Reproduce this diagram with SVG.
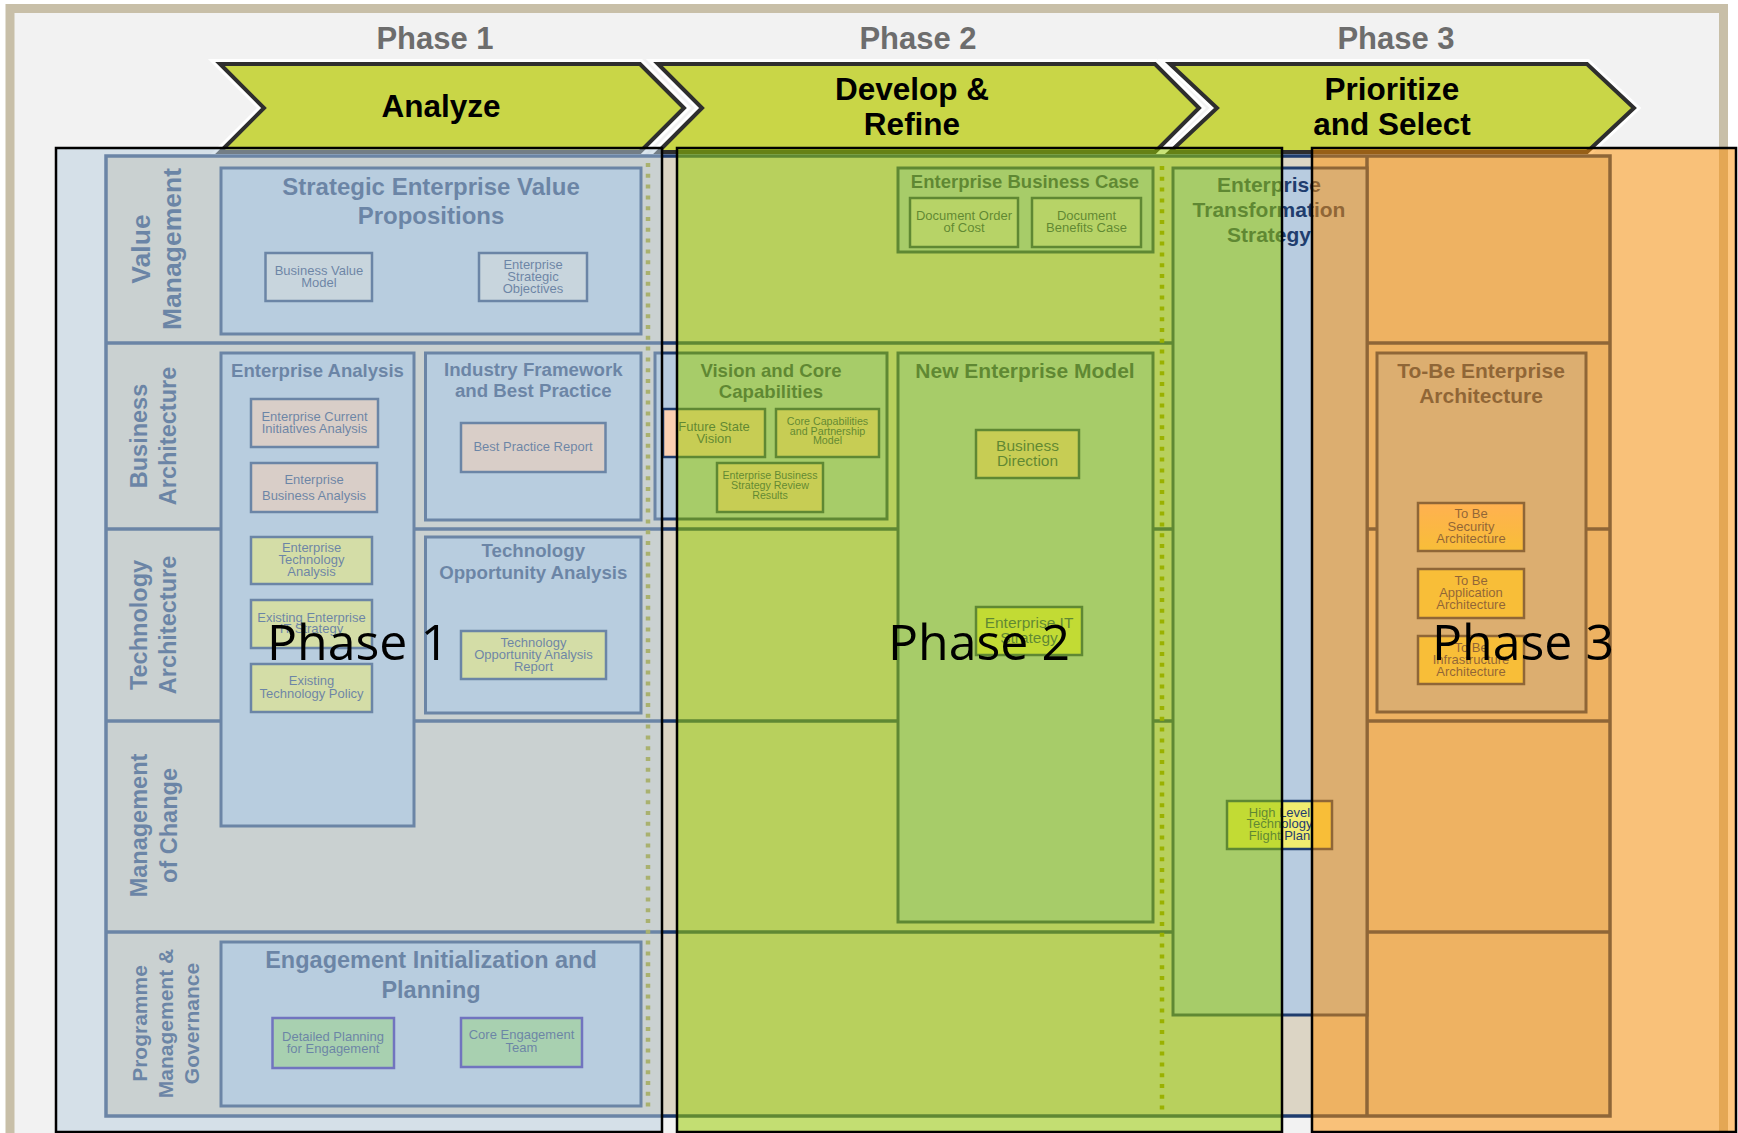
<svg xmlns="http://www.w3.org/2000/svg" width="1738" height="1133" viewBox="0 0 1738 1133">
  <style>
    .sans { font-family: "Liberation Sans", Arial, sans-serif; }
    .hdr { font-family: "Liberation Sans", Arial, sans-serif; font-weight: bold; font-size: 31px; fill: #6d6d6d; text-anchor: middle; }
    .halo { fill: none; stroke: #ffffff; stroke-width: 10; stroke-linejoin: miter; }
    .chev { fill: #c9d647; stroke: #2e2e2e; stroke-width: 4; stroke-linejoin: miter; }
    .chevtxt { font-family: "Liberation Sans", Arial, sans-serif; font-weight: bold; font-size: 31.5px; fill: #000000; text-anchor: middle; }
    .rows { fill: #dcd5c5; stroke: #1f3d6e; stroke-width: 3.5; }
    .rowline { fill: none; stroke: #1f3d6e; stroke-width: 3.5; }
    .lane { font-family: "Liberation Sans", Arial, sans-serif; font-weight: bold; fill: #1f3d6e; text-anchor: middle; }
    .box { fill: #b8cce0; stroke: #1f3d6e; stroke-width: 3; }
    .ttl { font-family: "Liberation Sans", Arial, sans-serif; font-weight: bold; fill: #1f3d6e; text-anchor: middle; }
    .item { stroke: #1f3d6e; stroke-width: 2.5; }
    .peach { fill: #fbcfb2; }
    .yellow { fill: #f0ec70; }
    .grey { fill: #d9dcdc; }
    .mint { fill: #98d282; stroke: #2a1aa0; }
    .grad { fill: url(#peachToYellow); }
    .sm { font-family: "Liberation Sans", Arial, sans-serif; font-size: 13px; fill: #1f3d6e; text-anchor: middle; }
    .dots { fill: none; stroke: #9b9400; stroke-width: 4.5; stroke-dasharray: 4 6.8; }
    .phase { stroke: #000000; stroke-width: 2.5; }
    .phasetxt { font-family: "Open Sans", "Noto Sans", sans-serif; font-size: 50px; fill: #000000; text-anchor: middle; }
  </style>
  <defs>
    <linearGradient id="peachToYellow" x1="0" y1="0" x2="0" y2="1">
      <stop offset="0" stop-color="#ffd2a2"/>
      <stop offset="1" stop-color="#f0ec70"/>
    </linearGradient>
  </defs>

  <!-- page and frame -->
  <rect x="0" y="0" width="1738" height="1133" fill="#ffffff"/>
  <rect x="10" y="8.5" width="1713.5" height="1140" fill="#f2f2f2" stroke="#c8bfa8" stroke-width="9"/>

  <!-- phase headings -->
  <g id="headings">
    <text class="hdr" x="435" y="49">Phase 1</text>
    <text class="hdr" x="918" y="49">Phase 2</text>
    <text class="hdr" x="1396" y="49">Phase 3</text>
  </g>

  <!-- chevron banner -->
  <g id="chevron-analyze">
    <polygon class="halo" points="220,64 640,64 684,108 640,152 220,152 264,108"/>
    <polygon class="chev" points="220,64 640,64 684,108 640,152 220,152 264,108"/>
    <text class="chevtxt" x="441" y="117">Analyze</text>
  </g>
  <g id="chevron-develop">
    <polygon class="halo" points="658,64 1155,64 1199,108 1155,152 658,152 702,108"/>
    <polygon class="chev" points="658,64 1155,64 1199,108 1155,152 658,152 702,108"/>
    <text class="chevtxt" x="912"><tspan x="912" y="100">Develop &amp;</tspan><tspan x="912" y="135">Refine</tspan></text>
  </g>
  <g id="chevron-prioritize">
    <polygon class="halo" points="1170,64 1587,64 1634,108 1587,152 1170,152 1217,108"/>
    <polygon class="chev" points="1170,64 1587,64 1634,108 1587,152 1170,152 1217,108"/>
    <text class="chevtxt"><tspan x="1392" y="100">Prioritize</tspan><tspan x="1392" y="135">and Select</tspan></text>
  </g>

  <!-- swimlane grid -->
  <g id="lanes">
    <rect class="rows" x="106" y="156" width="1504" height="960"/>
    <path class="rowline" d="M106 343H1610M106 529H1610M106 721H1610M106 932H1610M1367 156V1116"/>
    <text class="lane" transform="rotate(-90)" style="font-size:26.5px"><tspan x="-249" y="149.5">Value</tspan><tspan x="-249" y="181">Management</tspan></text>
    <text class="lane" transform="rotate(-90)" style="font-size:23.5px"><tspan x="-436" y="147">Business</tspan><tspan x="-436" y="175.7">Architecture</tspan></text>
    <text class="lane" transform="rotate(-90)" style="font-size:23.5px"><tspan x="-625" y="147">Technology</tspan><tspan x="-625" y="175.7">Architecture</tspan></text>
    <text class="lane" transform="rotate(-90)" style="font-size:23.5px"><tspan x="-825.5" y="147">Management</tspan><tspan x="-825.5" y="176.5">of Change</tspan></text>
    <text class="lane" transform="rotate(-90)" style="font-size:21px"><tspan x="-1023.5" y="147">Programme</tspan><tspan x="-1023.5" y="173">Management &amp;</tspan><tspan x="-1023.5" y="199">Governance</tspan></text>
  </g>

  <!-- stage separators -->
  <g id="separators">
    <line class="dots" x1="648" y1="163" x2="648" y2="1113"/>
    <line class="dots" x1="1162" y1="166" x2="1162" y2="1113"/>
  </g>

  <!-- Value Management -->
  <g id="strategic-value-propositions">
    <rect class="box" x="221" y="168" width="420" height="166"/>
    <text class="ttl" style="font-size:24px"><tspan x="431" y="195">Strategic Enterprise Value</tspan><tspan x="431" y="224">Propositions</tspan></text>
  </g>
  <g id="business-value-model">
    <rect class="item grey" x="265.5" y="253" width="106.5" height="48"/>
    <text class="sm"><tspan x="319" y="275">Business Value</tspan><tspan x="319" y="287">Model</tspan></text>
  </g>
  <g id="strategic-objectives">
    <rect class="item grey" x="479" y="253" width="108" height="48"/>
    <text class="sm"><tspan x="533" y="269">Enterprise</tspan><tspan x="533" y="281">Strategic</tspan><tspan x="533" y="293">Objectives</tspan></text>
  </g>
  <g id="business-case">
    <rect class="box" x="898" y="168" width="255" height="84"/>
    <text class="ttl" x="1025" y="188" style="font-size:18.5px">Enterprise Business Case</text>
  </g>
  <g id="order-of-cost">
    <rect class="item grey" x="910" y="198" width="108" height="49"/>
    <text class="sm"><tspan x="964" y="220">Document Order</tspan><tspan x="964" y="232">of Cost</tspan></text>
  </g>
  <g id="benefits-case">
    <rect class="item grey" x="1032" y="198" width="109" height="49"/>
    <text class="sm"><tspan x="1086.5" y="220">Document</tspan><tspan x="1086.5" y="232">Benefits Case</tspan></text>
  </g>

  <!-- Enterprise Analysis column -->
  <g id="enterprise-analysis">
    <rect class="box" x="221" y="353" width="193" height="473"/>
    <text class="ttl" x="317.5" y="377" style="font-size:18.6px">Enterprise Analysis</text>
  </g>
  <g id="current-initiatives">
    <rect class="item peach" x="251" y="399" width="127" height="48"/>
    <text class="sm"><tspan x="314.5" y="421">Enterprise Current</tspan><tspan x="314.5" y="433">Initiatives Analysis</tspan></text>
  </g>
  <g id="business-analysis">
    <rect class="item peach" x="251" y="463" width="126" height="49"/>
    <text class="sm"><tspan x="314" y="484">Enterprise</tspan><tspan x="314" y="500">Business Analysis</tspan></text>
  </g>
  <g id="technology-analysis">
    <rect class="item yellow" x="251" y="537" width="121" height="47"/>
    <text class="sm"><tspan x="311.5" y="552">Enterprise</tspan><tspan x="311.5" y="564">Technology</tspan><tspan x="311.5" y="576">Analysis</tspan></text>
  </g>
  <g id="existing-it-strategy">
    <rect class="item yellow" x="251" y="600" width="121" height="48"/>
    <text class="sm"><tspan x="311.5" y="622">Existing Enterprise</tspan><tspan x="311.5" y="633">IT Strategy</tspan></text>
  </g>
  <g id="existing-technology-policy">
    <rect class="item yellow" x="251" y="664" width="121" height="48"/>
    <text class="sm"><tspan x="311.5" y="685">Existing</tspan><tspan x="311.5" y="698">Technology Policy</tspan></text>
  </g>

  <g id="industry-framework">
    <rect class="box" x="425.5" y="353" width="215.5" height="167"/>
    <text class="ttl" style="font-size:18.7px"><tspan x="533.3" y="376">Industry Framework</tspan><tspan x="533.3" y="397">and Best Practice</tspan></text>
  </g>
  <g id="best-practice-report">
    <rect class="item peach" x="461" y="423" width="144.5" height="49"/>
    <text class="sm" x="533" y="451">Best Practice Report</text>
  </g>
  <g id="technology-opportunity">
    <rect class="box" x="425.5" y="537" width="215.5" height="176"/>
    <text class="ttl" style="font-size:18.7px"><tspan x="533.3" y="557">Technology</tspan><tspan x="533.3" y="579">Opportunity Analysis</tspan></text>
  </g>
  <g id="technology-opportunity-report">
    <rect class="item yellow" x="461" y="631" width="145" height="48"/>
    <text class="sm"><tspan x="533.5" y="647">Technology</tspan><tspan x="533.5" y="659">Opportunity Analysis</tspan><tspan x="533.5" y="671">Report</tspan></text>
  </g>

  <!-- Programme Management -->
  <g id="engagement-planning">
    <rect class="box" x="221" y="942" width="420" height="164"/>
    <text class="ttl" style="font-size:23.5px"><tspan x="431" y="968">Engagement Initialization and</tspan><tspan x="431" y="998">Planning</tspan></text>
  </g>
  <g id="detailed-planning">
    <rect class="item mint" x="272.5" y="1018" width="121.5" height="50"/>
    <text class="sm"><tspan x="333" y="1041">Detailed Planning</tspan><tspan x="333" y="1053">for Engagement</tspan></text>
  </g>
  <g id="core-team">
    <rect class="item mint" x="461" y="1018" width="121" height="49"/>
    <text class="sm"><tspan x="521.5" y="1039">Core Engagement</tspan><tspan x="521.5" y="1052">Team</tspan></text>
  </g>

  <!-- Vision and model -->
  <g id="vision-capabilities">
    <rect class="box" x="655" y="353" width="232" height="166"/>
    <text class="ttl" style="font-size:18.6px"><tspan x="771" y="377">Vision and Core</tspan><tspan x="771" y="398">Capabilities</tspan></text>
  </g>
  <g id="future-state-vision">
    <rect class="item peach" x="663" y="409" width="102" height="48"/>
    <text class="sm"><tspan x="714" y="431">Future State</tspan><tspan x="714" y="443">Vision</tspan></text>
  </g>
  <g id="partnership-model">
    <rect class="item peach" x="776" y="409" width="103" height="48"/>
    <text class="sm" style="font-size:10.7px"><tspan x="827.5" y="425">Core Capabilities</tspan><tspan x="827.5" y="435">and Partnership</tspan><tspan x="827.5" y="444">Model</tspan></text>
  </g>
  <g id="strategy-review">
    <rect class="item peach" x="717" y="463" width="106" height="49"/>
    <text class="sm" style="font-size:10.7px"><tspan x="770" y="479">Enterprise Business</tspan><tspan x="770" y="489">Strategy Review</tspan><tspan x="770" y="499">Results</tspan></text>
  </g>
  <g id="new-enterprise-model">
    <rect class="box" x="898" y="353" width="255" height="569"/>
    <text class="ttl" x="1025" y="378" style="font-size:21px">New Enterprise Model</text>
  </g>
  <g id="business-direction">
    <rect class="item peach" x="976" y="430" width="103" height="48"/>
    <text class="sm" style="font-size:15.5px"><tspan x="1027.5" y="451">Business</tspan><tspan x="1027.5" y="466">Direction</tspan></text>
  </g>
  <g id="enterprise-it-strategy">
    <rect class="item yellow" x="976" y="607" width="106" height="48"/>
    <text class="sm" style="font-size:15.5px"><tspan x="1029" y="628">Enterprise IT</tspan><tspan x="1029" y="643">Strategy</tspan></text>
  </g>

  <!-- Transformation and target -->
  <g id="transformation-strategy">
    <rect class="box" x="1173" y="168" width="194" height="847"/>
    <text class="ttl" style="font-size:21px"><tspan x="1269" y="192">Enterprise</tspan><tspan x="1269" y="217">Transformation</tspan><tspan x="1269" y="242">Strategy</tspan></text>
  </g>
  <g id="flight-plan">
    <rect class="item yellow" x="1227" y="801" width="105" height="48"/>
    <text class="sm"><tspan x="1279.5" y="817">High Level</tspan><tspan x="1279.5" y="828">Technology</tspan><tspan x="1279.5" y="840">Flight Plan</tspan></text>
  </g>
  <g id="target-architecture">
    <rect class="box" x="1377" y="353" width="209" height="359"/>
    <text class="ttl" style="font-size:21px"><tspan x="1481" y="378">To-Be Enterprise</tspan><tspan x="1481" y="403">Architecture</tspan></text>
  </g>
  <g id="security-architecture">
    <rect class="item grad" x="1418" y="503" width="106" height="48"/>
    <text class="sm"><tspan x="1471" y="518">To Be</tspan><tspan x="1471" y="531">Security</tspan><tspan x="1471" y="543">Architecture</tspan></text>
  </g>
  <g id="application-architecture">
    <rect class="item yellow" x="1418" y="569" width="106" height="49"/>
    <text class="sm"><tspan x="1471" y="585">To Be</tspan><tspan x="1471" y="597">Application</tspan><tspan x="1471" y="609">Architecture</tspan></text>
  </g>
  <g id="infrastructure-architecture">
    <rect class="item yellow" x="1418" y="636" width="106" height="48"/>
    <text class="sm"><tspan x="1471" y="652">To Be</tspan><tspan x="1471" y="664">Infrastructure</tspan><tspan x="1471" y="676">Architecture</tspan></text>
  </g>

  <!-- translucent phase bands -->
  <g id="phase-1">
    <rect class="phase" x="56" y="148" width="606" height="984" fill="#b8cede" fill-opacity="0.5"/>
    <text class="phasetxt" x="358" y="660">Phase 1</text>
  </g>
  <g id="phase-2">
    <rect class="phase" x="677" y="148" width="605" height="984" fill="#99cc00" fill-opacity="0.53"/>
    <text class="phasetxt" x="979" y="660">Phase 2</text>
  </g>
  <g id="phase-3">
    <rect class="phase" x="1312" y="148" width="424" height="984" fill="#ff8f00" fill-opacity="0.5"/>
    <text class="phasetxt" x="1523" y="660">Phase 3</text>
  </g>
</svg>
